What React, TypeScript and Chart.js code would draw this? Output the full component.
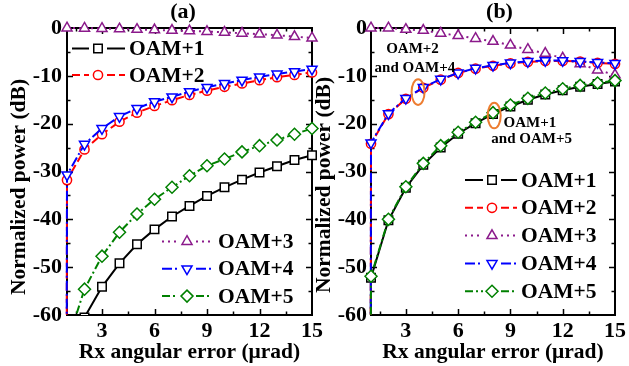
import React, { useEffect, useRef } from 'react';
import { Chart, registerables } from 'chart.js';

Chart.register(...registerables);

const FONT = '"Liberation Serif", "Times New Roman", serif';

// ---------- data ----------
const xValues = [1, 2, 3, 4, 5, 6, 7, 8, 9, 10, 11, 12, 13, 14, 15];
const xTickValues = [3, 6, 9, 12, 15];
const yTickValues = [0, -10, -20, -30, -40, -50, -60];
const leadX = 0.98; // steep drop just left of the first sample

const seriesLabels = ['OAM+1', 'OAM+2', 'OAM+3', 'OAM+4', 'OAM+5'];

// panel (a)
const aOam1 = [-72, -60.5, -54.1, -49.2, -45.2, -42.1, -39.4, -37.2, -35.1, -33.3, -31.7, -30.2, -28.9, -27.6, -26.6];
const aOam2 = [-31.8, -25.4, -22.2, -19.6, -17.7, -16.3, -15.1, -14.0, -13.1, -12.3, -11.6, -10.9, -10.3, -9.8, -9.3];
const aOam3 = [0, -0.05, -0.1, -0.2, -0.3, -0.4, -0.5, -0.6, -0.75, -0.9, -1.1, -1.3, -1.5, -1.8, -2.1];
const aOam4 = [-30.7, -24.3, -21.0, -18.5, -16.8, -15.4, -14.4, -13.3, -12.4, -11.6, -10.9, -10.2, -9.6, -9.1, -8.6];
const aOam5 = [-66, -54.6, -47.7, -42.7, -38.9, -35.8, -33.3, -30.9, -28.8, -27.4, -25.9, -24.6, -23.4, -22.2, -21.0];
const aLead = [null, -70, null, -70, null];

// panel (b)
const bOam1 = [-52.2, -40.2, -33.4, -28.6, -25.0, -22.1, -19.9, -18.0, -16.4, -15.0, -13.9, -13.0, -12.3, -11.7, -11.2];
const bOam2 = [-24.2, -18.0, -14.8, -12.5, -10.8, -9.4, -8.5, -7.9, -7.4, -7.1, -6.9, -6.9, -7.0, -7.3, -7.5];
const bOam3 = [0, 0, -0.3, -0.5, -1.1, -1.6, -2.2, -2.8, -3.6, -4.5, -5.3, -6.3, -7.5, -8.8, -9.8];
const bOam4 = [-24.0, -17.9, -14.7, -12.4, -10.7, -9.4, -8.4, -7.8, -7.3, -7.0, -6.8, -6.8, -7.0, -7.2, -7.4];
const bOam5 = [-51.9, -40.0, -33.2, -28.3, -24.6, -21.8, -19.7, -17.7, -16.1, -14.7, -13.6, -12.7, -12.0, -11.5, -11.0];
const bLead = [-70, -70, null, -70, -70];

const bNoteTexts = ['OAM+2', 'and OAM+4', 'OAM+1', 'and OAM+5'];
const bNoteX = [3.38, 3.52, 10.12, 10.22];
const bNoteY = [-4.4, -8.3, -19.8, -23.2];
const bEllipseX = [3.7, 8.07];
const bEllipseY = [-13.4, -18.3];

// ---------- styles ----------
const seriesStyles = [
  { color: '#000000', dash: [] as number[], point: 'rect', radius: 6, rotation: 0 },
  { color: '#ff0000', dash: [8, 4], point: 'circle', radius: 4.6, rotation: 0 },
  { color: '#8b1a8b', dash: [2, 4], point: 'triangle', radius: 5.8, rotation: 0 },
  { color: '#0000ff', dash: [10, 3, 2, 3], point: 'triangle', radius: 5.8, rotation: 180 },
  { color: '#008000', dash: [8, 3, 2, 3], point: 'rectRot', radius: 6, rotation: 0 },
];

const panels = [
  {
    id: 'a',
    title: '(a)',
    titleX: 183,
    titleY: 12.5,
    series: [aOam1, aOam2, aOam3, aOam4, aOam5],
    leads: aLead,
    padLeft: 0,
    yWidth: 67,
    padRight: 317,
    yTickPad: 5,
    yTitleX: 25,
    yTitleY: 187,
    legends: [
      { rows: [0, 1], x0: 72, x1: 125, mx: 98, tx: 129, y0: 48.5, dy: 26.5 },
      { rows: [2, 3, 4], x0: 162, x1: 211, mx: 187, tx: 218, y0: 241.5, dy: 27.3 },
    ],
    noteTexts: [] as string[],
    noteX: [] as number[],
    noteY: [] as number[],
    ellX: [] as number[],
    ellY: [] as number[],
  },
  {
    id: 'b',
    title: '(b)',
    titleX: 499.5,
    titleY: 12.5,
    series: [bOam1, bOam2, bOam3, bOam4, bOam5],
    leads: bLead,
    padLeft: 310,
    yWidth: 61,
    padRight: 14,
    yTickPad: 4,
    yTitleX: 330,
    yTitleY: 185,
    legends: [{ rows: [0, 1, 2, 3, 4], x0: 465, x1: 517, mx: 492, tx: 521, y0: 180, dy: 27.8 }],
    noteTexts: bNoteTexts,
    noteX: bNoteX,
    noteY: bNoteY,
    ellX: bEllipseX,
    ellY: bEllipseY,
  },
];

function drawMarker(ctx: CanvasRenderingContext2D, style: string, x: number, y: number, r: number, rot: number) {
  ctx.beginPath();
  if (style === 'circle') {
    ctx.arc(x, y, r, 0, Math.PI * 2);
  } else if (style === 'rect') {
    const s = r * Math.SQRT1_2;
    ctx.rect(x - s, y - s, 2 * s, 2 * s);
  } else if (style === 'rectRot') {
    ctx.moveTo(x, y - r);
    ctx.lineTo(x + r, y);
    ctx.lineTo(x, y + r);
    ctx.lineTo(x - r, y);
    ctx.closePath();
  } else {
    let a = (rot * Math.PI) / 180;
    for (let k = 0; k < 3; k++) {
      const px = x + Math.sin(a) * r;
      const py = y - Math.cos(a) * r;
      if (k === 0) ctx.moveTo(px, py);
      else ctx.lineTo(px, py);
      a += (2 * Math.PI) / 3;
    }
    ctx.closePath();
  }
  ctx.fill();
  ctx.stroke();
}

function makeFramePlugin(cfg: any) {
  return {
    id: 'frame_' + cfg.id,
    beforeDatasetsDraw(chart: any) {
      const { ctx, chartArea: ca, scales } = chart;
      const x = scales.x;
      const y = scales.y;
      ctx.save();
      ctx.strokeStyle = '#000';
      ctx.lineWidth = 2;
      ctx.setLineDash([]);
      ctx.strokeRect(ca.left, ca.top, ca.right - ca.left, ca.bottom - ca.top);
      ctx.lineWidth = 1.5;
      const major = 6;
      const minor = 3.5;
      const xt: [number, number][] = [];
      xTickValues.forEach((v) => {
        xt.push([v, major]);
        xt.push([v - 1.5, minor]);
      });
      const yt: [number, number][] = [];
      yTickValues.forEach((v) => {
        yt.push([v, major]);
        if (v - 5 > -60) yt.push([v - 5, minor]);
      });
      ctx.beginPath();
      xt.forEach(([v, len]) => {
        const px = Math.round(x.getPixelForValue(v)) + 0.5;
        if (px <= ca.left + 1 || px >= ca.right - 1) return;
        ctx.moveTo(px, ca.bottom);
        ctx.lineTo(px, ca.bottom - len);
        ctx.moveTo(px, ca.top);
        ctx.lineTo(px, ca.top + len);
      });
      yt.forEach(([v, len]) => {
        const py = Math.round(y.getPixelForValue(v)) + 0.5;
        if (py <= ca.top + 1 || py >= ca.bottom - 1) return;
        ctx.moveTo(ca.left, py);
        ctx.lineTo(ca.left + len, py);
        ctx.moveTo(ca.right, py);
        ctx.lineTo(ca.right - len, py);
      });
      ctx.stroke();
      ctx.restore();
    },
    afterDraw(chart: any) {
      const { ctx, scales } = chart;
      const x = scales.x;
      const y = scales.y;
      ctx.save();
      ctx.fillStyle = '#000';
      // panel title
      ctx.font = `bold 22px ${FONT}`;
      ctx.textAlign = 'center';
      ctx.textBaseline = 'middle';
      ctx.fillText(cfg.title, cfg.titleX, cfg.titleY);
      // y axis title
      ctx.save();
      ctx.translate(cfg.yTitleX, cfg.yTitleY);
      ctx.rotate(-Math.PI / 2);
      ctx.font = `bold 21.5px ${FONT}`;
      ctx.textAlign = 'center';
      ctx.textBaseline = 'alphabetic';
      ctx.fillText('Normalized power (dB)', 0, 0);
      ctx.restore();
      // legends
      cfg.legends.forEach((lg: any) => {
        lg.rows.forEach((si: number, k: number) => {
          const st = seriesStyles[si];
          const yy = lg.y0 + k * lg.dy;
          ctx.strokeStyle = st.color;
          ctx.lineWidth = 2;
          ctx.setLineDash(st.dash);
          ctx.beginPath();
          ctx.moveTo(lg.x0, yy);
          ctx.lineTo(lg.mx - 9, yy);
          ctx.stroke();
          ctx.beginPath();
          ctx.moveTo(lg.mx + 9, yy);
          ctx.lineTo(lg.x1, yy);
          ctx.stroke();
          ctx.setLineDash([]);
          ctx.lineWidth = 1.5;
          ctx.fillStyle = '#fff';
          drawMarker(ctx, st.point, lg.mx, yy, st.radius, st.rotation);
          ctx.fillStyle = '#000';
          ctx.font = `bold 21.5px ${FONT}`;
          ctx.textAlign = 'left';
          ctx.textBaseline = 'middle';
          ctx.fillText(seriesLabels[si], lg.tx, yy + 1);
        });
      });
      // notes
      ctx.font = `bold 15px ${FONT}`;
      ctx.textAlign = 'center';
      ctx.textBaseline = 'middle';
      ctx.fillStyle = '#000';
      cfg.noteTexts.forEach((t: string, i: number) => {
        ctx.fillText(t, x.getPixelForValue(cfg.noteX[i]), y.getPixelForValue(cfg.noteY[i]));
      });
      // ellipses
      ctx.strokeStyle = '#ed7d31';
      ctx.lineWidth = 2;
      ctx.setLineDash([]);
      cfg.ellX.forEach((ex: number, i: number) => {
        ctx.beginPath();
        ctx.ellipse(x.getPixelForValue(ex), y.getPixelForValue(cfg.ellY[i]), 6.5, 12.8, 0, 0, Math.PI * 2);
        ctx.stroke();
      });
      ctx.restore();
    },
  };
}

function Panel({ cfg }: { cfg: any }) {
  const ref = useRef<HTMLCanvasElement>(null);
  useEffect(() => {
    const canvas = ref.current;
    if (!canvas) return;
    const datasets = cfg.series.map((vals: number[], i: number) => {
      const st = seriesStyles[i];
      const pts: { x: number; y: number }[] = [];
      if (cfg.leads[i] !== null) pts.push({ x: leadX, y: cfg.leads[i] });
      xValues.forEach((xv, k) => pts.push({ x: xv, y: vals[k] }));
      return {
        label: seriesLabels[i],
        data: pts,
        borderColor: st.color,
        backgroundColor: '#ffffff',
        borderWidth: 2,
        borderDash: st.dash,
        pointStyle: st.point,
        pointRadius: pts.map((p) => (p.x < 1 ? 0 : st.radius)),
        pointRotation: st.rotation,
        pointBorderColor: st.color,
        pointBackgroundColor: '#ffffff',
        pointBorderWidth: 1.5,
        tension: 0,
        clip: { left: 7, top: 8, right: 8, bottom: 0 },
        order: 4 - i,
      };
    });
    const tickFont = { family: FONT, size: 22, weight: 'bold' as const };
    const chart = new Chart(canvas, {
      type: 'line',
      data: { datasets },
      options: {
        animation: false,
        responsive: false,
        maintainAspectRatio: false,
        events: [],
        layout: {
          autoPadding: false,
          padding: { left: cfg.padLeft, right: cfg.padRight, top: 28, bottom: 0 },
        },
        plugins: {
          legend: { display: false },
          tooltip: { enabled: false },
          title: { display: false },
        },
        scales: {
          x: {
            type: 'linear',
            min: 1,
            max: 15,
            afterBuildTicks: (s: any) => {
              s.ticks = xTickValues.map((v) => ({ value: v }));
            },
            afterFit: (s: any) => {
              s.height = 51;
            },
            ticks: {
              color: '#000',
              font: tickFont,
              padding: 3,
              maxRotation: 0,
              autoSkip: false,
              callback: (v: any) => String(v),
            },
            grid: { display: false, drawTicks: false },
            border: { display: false },
            title: {
              display: true,
              text: 'Rx angular error (μrad)',
              color: '#000',
              font: { family: FONT, size: 21.5, weight: 'bold' },
              padding: { top: 0, bottom: 1 },
            },
          },
          y: {
            type: 'linear',
            min: -60,
            max: 0,
            afterBuildTicks: (s: any) => {
              s.ticks = yTickValues.map((v) => ({ value: v }));
            },
            afterFit: (s: any) => {
              s.width = cfg.yWidth;
            },
            ticks: {
              color: '#000',
              font: tickFont,
              padding: cfg.yTickPad,
              autoSkip: false,
              callback: (v: any) => String(v),
            },
            grid: { display: false, drawTicks: false },
            border: { display: false },
          },
        },
      } as any,
      plugins: [makeFramePlugin(cfg)],
    });
    return () => chart.destroy();
  }, [cfg]);
  return (
    <canvas
      ref={ref}
      width={629}
      height={366}
      style={{ position: 'absolute', left: 0, top: 0, width: 629, height: 366 }}
    />
  );
}

export default function App() {
  return (
    <div style={{ position: 'fixed', left: 0, top: 0, width: 629, height: 366, background: '#fff', overflow: 'hidden' }}>
      {panels.map((p) => (
        <Panel key={p.id} cfg={p} />
      ))}
    </div>
  );
}
